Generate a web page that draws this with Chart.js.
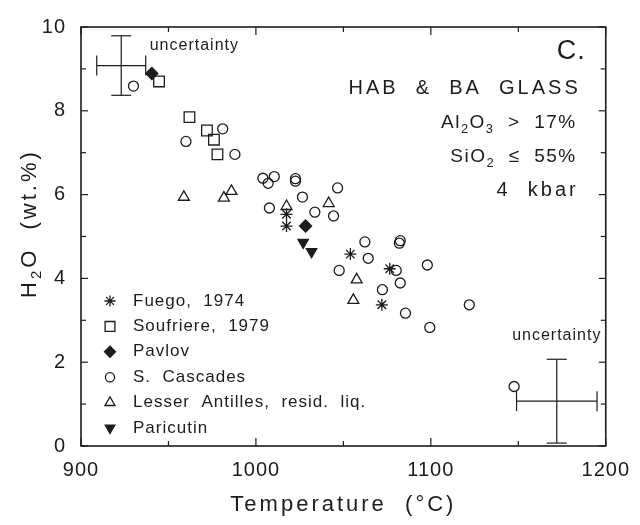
<!DOCTYPE html>
<html>
<head>
<meta charset="utf-8">
<script src="https://cdn.jsdelivr.net/npm/chart.js@4/dist/chart.umd.min.js"></script>
<style>
  html, body { margin: 0; padding: 0; background: #fff; }
</style>
</head>
<body>
<canvas id="GrafH2O" width="640" height="525"></canvas>
<script>
// H2O contenido vs temperatura, vidrios HAB y BA
// cada punto: [temperatura °C, H2O wt.%]
var fuego = [[1017.5, 5.53], [1017.5, 5.25], [1054, 4.58], [1076.5, 4.23], [1072, 3.37]];
var soufriere = [[944.6, 8.70], [962, 7.85], [972, 7.53], [976, 7.31], [978, 6.96]];
var pavlov = [[940.5, 8.89], [1028.4, 5.25]];
var cascades = [
  [930, 8.59], [960, 7.27], [981, 7.57], [988, 6.96], [1004, 6.39], [1007, 6.27],
  [1010.5, 6.43], [1022.6, 6.32], [1022.6, 6.38], [1007.7, 5.68], [1026.6, 5.94],
  [1033.7, 5.58], [1044.4, 5.49], [1046.7, 6.16], [1047.6, 4.19], [1062.3, 4.87],
  [1082, 4.84], [1082.5, 4.90], [1064.2, 4.48], [1080.2, 4.19], [1098, 4.32],
  [1082.5, 3.89], [1072.3, 3.73], [1085.5, 3.17], [1122, 3.37], [1099.4, 2.83],
  [1147.6, 1.42]
];
var antilles = [[958.8, 5.94], [981.7, 5.92], [986, 6.08], [1017.5, 5.72], [1041.6, 5.79], [1057.6, 3.97], [1055.7, 3.48]];
var paricutin = [[1027, 4.86], [1031.8, 4.64]];

// barras de incertidumbre: [T, H2O, ±T, ±H2O]
var uncertainty = [[923, 9.08, 14, 0.71], [1172, 1.07, 23, 1.0]];

var seriesNames = ['Fuego,  1974', 'Soufriere,  1979', 'Pavlov', 'S.  Cascades', 'Lesser  Antilles,  resid.  liq.', 'Paricutin'];
var xTicks = [900, 1000, 1100, 1200];
var yTicks = [0, 2, 4, 6, 8, 10];

var ink = '#1c1c1c';
var fam = '"Liberation Sans", Arial, sans-serif';
function font(size) { return size + 'px ' + fam; }
function pts(list) { return list.map(function (p) { return { x: p[0], y: p[1] }; }); }

// texto con subindices: partes [texto, esSub]
function drawRich(ctx, parts, x, y, size, align, spacing) {
  ctx.letterSpacing = spacing + 'px';
  var w = parts.map(function (p) {
    ctx.font = font(p[1] ? size * 0.68 : size);
    return ctx.measureText(p[0]).width;
  });
  var total = w.reduce(function (a, b) { return a + b; }, 0);
  var cx = align === 'right' ? x - total : (align === 'center' ? x - total / 2 : x);
  ctx.textAlign = 'left';
  ctx.textBaseline = 'middle';
  parts.forEach(function (p, i) {
    ctx.font = font(p[1] ? size * 0.68 : size);
    ctx.fillText(p[0], cx, p[1] ? y + size * 0.32 : y);
    cx += w[i];
  });
  return total;
}

function line(ctx, x1, y1, x2, y2) {
  ctx.beginPath(); ctx.moveTo(x1, y1); ctx.lineTo(x2, y2); ctx.stroke();
}

var marker = { borderColor: ink, borderWidth: 1.3, hoverRadius: 0 };
var datasets = [
  Object.assign({ label: seriesNames[0], data: pts(fuego), pointStyle: 'star', pointRadius: 6, backgroundColor: ink }, marker),
  Object.assign({ label: seriesNames[1], data: pts(soufriere), pointStyle: 'rect', pointRadius: 7.5, backgroundColor: 'rgba(255,255,255,0)' }, marker),
  Object.assign({ label: seriesNames[2], data: pts(pavlov), pointStyle: 'rectRot', pointRadius: 6, backgroundColor: ink }, marker),
  Object.assign({ label: seriesNames[3], data: pts(cascades), pointStyle: 'circle', pointRadius: 5, backgroundColor: 'rgba(255,255,255,0)' }, marker),
  Object.assign({ label: seriesNames[4], data: pts(antilles), pointStyle: 'triangle', pointRadius: 6.3, backgroundColor: 'rgba(255,255,255,0)' }, marker),
  Object.assign({ label: seriesNames[5], data: pts(paricutin), pointStyle: 'triangle', pointRotation: 180, pointRadius: 6, backgroundColor: ink }, marker)
];

var panel = {
  id: 'panel',
  beforeDraw: function (chart) { chart.ctx.letterSpacing = '1px'; },
  afterDraw: function (chart) {
    var ctx = chart.ctx, a = chart.chartArea, sx = chart.scales.x, sy = chart.scales.y;
    ctx.save();
    ctx.strokeStyle = ink;
    ctx.fillStyle = ink;

    // marcas hacia adentro en los cuatro lados
    ctx.lineWidth = 1.2;
    sx.ticks.forEach(function (t) {
      var px = sx.getPixelForValue(t.value);
      var len = xTicks.indexOf(t.value) >= 0 ? 8 : 5;
      line(ctx, px, a.bottom, px, a.bottom - len);
      line(ctx, px, a.top, px, a.top + len);
    });
    sy.ticks.forEach(function (t) {
      var py = sy.getPixelForValue(t.value);
      var len = yTicks.indexOf(t.value) >= 0 ? 7 : 5;
      line(ctx, a.left, py, a.left + len, py);
      line(ctx, a.right, py, a.right - len, py);
    });
    ctx.lineWidth = 1.6;
    ctx.strokeRect(a.left, a.top, a.right - a.left, a.bottom - a.top);

    // incertidumbre
    ctx.lineWidth = 1.2;
    uncertainty.forEach(function (u, i) {
      var cx = sx.getPixelForValue(u[0]), cy = sy.getPixelForValue(u[1]);
      var x1 = sx.getPixelForValue(u[0] - u[2]), x2 = sx.getPixelForValue(u[0] + u[2]);
      var y1 = sy.getPixelForValue(u[1] + u[3]), y2 = sy.getPixelForValue(u[1] - u[3]);
      var cap = 10;
      line(ctx, x1, cy, x2, cy);
      line(ctx, cx, y1, cx, y2);
      line(ctx, x1, cy - cap, x1, cy + cap);
      line(ctx, x2, cy - cap, x2, cy + cap);
      line(ctx, cx - cap, y1, cx + cap, y1);
      line(ctx, cx - cap, y2, cx + cap, y2);
      if (i === 0) {
        drawRich(ctx, [['uncertainty']], x2 + 4, y1 + 10, 16, 'left', 1);
      } else {
        drawRich(ctx, [['uncertainty']], cx, y1 - 24, 16, 'center', 1);
      }
    });

    // leyenda
    var lx = a.left + 29, ly = a.top + 274, step = 25.4;
    chart.data.datasets.forEach(function (ds, i) {
      var y = ly + i * step;
      ctx.fillStyle = ds.backgroundColor;
      ctx.strokeStyle = ink;
      ctx.lineWidth = 1.3;
      Chart.helpers.drawPoint(ctx, {
        pointStyle: ds.pointStyle, rotation: ds.pointRotation || 0,
        radius: ds.pointRadius * 0.92, borderWidth: 1.3
      }, lx, y);
      ctx.fillStyle = ink;
      drawRich(ctx, [[ds.label]], a.left + 52, y, 17, 'left', 1);
    });

    // rotulos del panel
    drawRich(ctx, [['C.']], a.right - 20, 52, 27, 'right', 1);
    drawRich(ctx, [['HAB  &  BA  GLASS']], a.right - 25, 88, 20, 'right', 3);
    drawRich(ctx, [['Al'], ['2', 1], ['O'], ['3', 1], ['  >  17%']], a.right - 29, 123, 19, 'right', 1.5);
    drawRich(ctx, [['SiO'], ['2', 1], ['  ≤  55%']], a.right - 29, 157, 19, 'right', 1.5);
    drawRich(ctx, [['4  kbar']], a.right - 27, 190, 20, 'right', 3);

    // titulos de ejes
    drawRich(ctx, [['Temperature  (°C)']], (a.left + a.right) / 2, 505, 22, 'center', 3);
    ctx.translate(30, 298);
    ctx.rotate(-Math.PI / 2);
    drawRich(ctx, [['H'], ['2', 1], ['O  (wt.%)']], 0, 0, 22, 'left', 3);
    ctx.restore();
  }
};

var ctxH = document.getElementById('GrafH2O').getContext('2d');
var chart = new Chart(ctxH, {
  type: 'scatter',
  data: { datasets: datasets },
  options: {
    responsive: false,
    animation: false,
    events: [],
    layout: { padding: { top: 22, right: 28, left: 0, bottom: 0 } },
    plugins: { legend: { display: false }, tooltip: { enabled: false } },
    scales: {
      x: {
        type: 'linear', min: 900, max: 1200,
        grid: { display: false, drawTicks: false },
        border: { display: false },
        ticks: {
          stepSize: 50, autoSkip: false, maxRotation: 0, padding: 12,
          color: ink, font: { family: fam, size: 20 },
          callback: function (v) { return xTicks.indexOf(v) >= 0 ? String(v) : ''; }
        },
        afterFit: function (s) { s.height = 79; }
      },
      y: {
        type: 'linear', min: 0, max: 10,
        grid: { display: false, drawTicks: false },
        border: { display: false },
        ticks: {
          stepSize: 1, autoSkip: false, padding: 15,
          color: ink, font: { family: fam, size: 20 },
          callback: function (v) { return yTicks.indexOf(v) >= 0 ? String(v) : ''; }
        },
        afterFit: function (s) { s.width = 81; }
      }
    }
  },
  plugins: [panel]
});
</script>
</body>
</html>
